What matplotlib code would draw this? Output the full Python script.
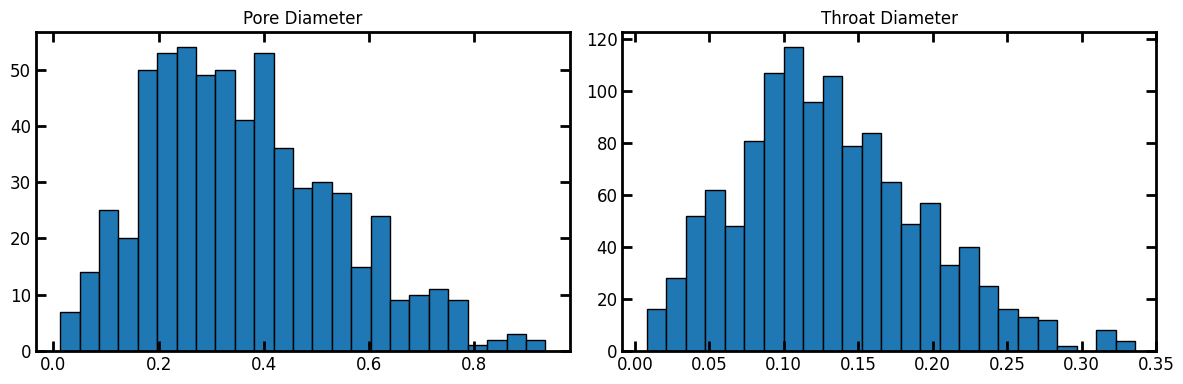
import numpy as np
import matplotlib
matplotlib.use('Agg')
from matplotlib import pyplot as plt

# histogram counts (25 bins each)
pore_counts = [7, 14, 25, 20, 50, 53, 54, 49, 50, 41, 53, 36, 29, 30, 28,
               15, 24, 9, 10, 11, 9, 1, 2, 3, 2]
pore_range = (0.013, 0.935)

throat_counts = [16, 28, 52, 62, 48, 81, 107, 117, 96, 106, 79, 84, 65, 49,
                 57, 33, 40, 25, 16, 13, 12, 2, 0, 8, 4]
throat_range = (0.008, 0.336)

titles = ['Pore Diameter', 'Throat Diameter']

fig, (ax1, ax2) = plt.subplots(1, 2, figsize=(11.83, 3.84), dpi=100)

for ax, counts, rng, title in [(ax1, pore_counts, pore_range, titles[0]),
                               (ax2, throat_counts, throat_range, titles[1])]:
    edges = np.linspace(rng[0], rng[1], len(counts) + 1)
    centers = (edges[:-1] + edges[1:]) / 2
    ax.hist(centers, bins=edges, weights=counts, color='#1f77b4',
            edgecolor='black', linewidth=1)
    ax.set_title(title, fontsize=12)
    ax.tick_params(direction='in', length=7, width=2, top=True, right=True,
                   labelsize=12)
    for s in ax.spines.values():
        s.set_linewidth(2)

ax2.set_xlim(right=0.35)

plt.subplots_adjust(left=0.0304, right=0.9772, top=0.9167, bottom=0.0859,
                    wspace=0.099)
plt.savefig('out.png')
